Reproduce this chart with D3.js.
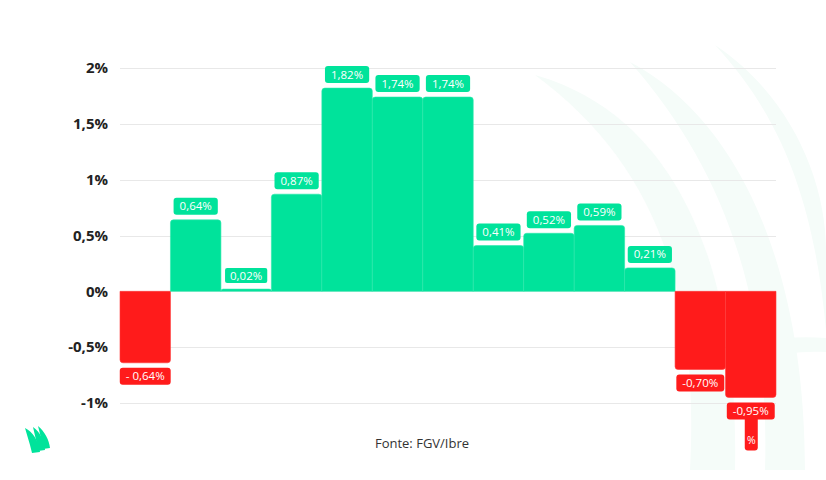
<!DOCTYPE html>
<html><head><meta charset="utf-8">
<script src="https://cdn.jsdelivr.net/npm/d3@7"></script>
<style>
html,body{margin:0;padding:0;background:#fff;}
svg{display:block;font-family:"Open Sans","Noto Sans",sans-serif;}
</style></head>
<body><svg id="c" width="826" height="480"></svg>
<script>
const categories = ["1","2","3","4","5","6","7","8","9","10","11","12","13"];
const values = [-0.64, 0.64, 0.02, 0.87, 1.82, 1.74, 1.74, 0.41, 0.52, 0.59, 0.21, -0.70, -0.95];
const valueLabels = ["- 0,64%","0,64%","0,02%","0,87%","1,82%","1,74%","1,74%","0,41%","0,52%","0,59%","0,21%","-0,70%","-0,95%"];
const tickValues = [2, 1.5, 1, 0.5, 0, -0.5, -1];
const tickLabels = ["2%","1,5%","1%","0,5%","0%","-0,5%","-1%"];
const sourceText = "Fonte: FGV/Ibre";

const GREEN = "#00E39B", RED = "#FF1B1B";
const svg = d3.select("#c");

// background watermark (faint arcs)
const wm = svg.append("g").attr("fill","#f5fcf9");
wm.append("path").attr("d","M535,75 C660,110 740,240 735,470 L690,470 C700,280 650,160 535,75 Z");
wm.append("path").attr("d","M630,62 C740,120 805,270 805,470 L765,470 C770,300 725,170 630,62 Z");
wm.append("path").attr("d","M715,45 C790,95 826,180 826,250 L826,330 C815,210 785,120 715,45 Z");
wm.append("path").attr("d","M700,360 C740,340 790,335 826,338 L826,352 C790,350 750,358 715,372 Z");

const x = d3.scaleBand().domain(categories).range([120,776]).padding(0);
const y = d3.scaleLinear().domain([-1,2]).range([403,68]);

// gridlines
svg.append("g").selectAll("line").data(tickValues).join("line")
  .attr("x1",120).attr("x2",776)
  .attr("y1",d=>Math.round(y(d))+0.5).attr("y2",d=>Math.round(y(d))+0.5)
  .attr("stroke","#e8e8e8").attr("stroke-width",1);

// y axis labels
const yAxis = d3.axisLeft(y).tickValues(tickValues).tickFormat((d,i)=>tickLabels[i]).tickSize(0).tickPadding(0);
const ag = svg.append("g").attr("transform","translate(108,0)").call(yAxis);
ag.select(".domain").remove();
ag.selectAll("text").attr("font-family","'Open Sans',sans-serif").attr("font-size",15)
  .attr("font-weight",700).attr("fill","#222");

// bars
function barPath(d,i){
  const x0 = x(categories[i]), w = x.bandwidth();
  const y0 = y(0), y1 = y(d), r = Math.min(3, Math.abs(y1-y0));
  if (d >= 0){
    return `M${x0},${y0}V${y1+r}Q${x0},${y1} ${x0+r},${y1}H${x0+w-r}Q${x0+w},${y1} ${x0+w},${y1+r}V${y0}Z`;
  } else {
    return `M${x0},${y0}V${y1-r}Q${x0},${y1} ${x0+r},${y1}H${x0+w-r}Q${x0+w},${y1} ${x0+w},${y1-r}V${y0}Z`;
  }
}
svg.append("g").selectAll("path").data(values).join("path")
  .attr("d",barPath).attr("fill",d=>d>=0?GREEN:RED)
  .attr("stroke",d=>d>=0?"#2ae8ab":"#ff3a3a").attr("stroke-width",0.6);

// value labels
const lg = svg.append("g");
values.forEach((d,i)=>{
  const cx = x(categories[i]) + x.bandwidth()/2;
  const g = lg.append("g");
  const t = g.append("text").text(valueLabels[i]).attr("font-size",11.5).attr("font-weight",500)
    .attr("fill","#fff").attr("text-anchor","middle");
  const tw = t.node().getComputedTextLength();
  const bw = tw + 12, bh = 17;
  const by = d >= 0 ? y(d) - 5 - bh : y(d) + 5;
  g.insert("rect","text").attr("x",cx-bw/2).attr("y",by).attr("width",bw).attr("height",bh)
    .attr("rx",3).attr("fill",d>=0?GREEN:RED)
    .attr("stroke",i===2?"#fff":"none").attr("stroke-width",i===2?2:0);
  t.attr("x",cx).attr("y",by+bh/2+4);
  if (i === values.length-1){
    // wrapped "%" tail
    g.insert("rect","rect").attr("x",cx-6).attr("y",by+bh-3).attr("width",13).attr("height",34)
      .attr("rx",3).attr("fill",RED);
    g.append("text").text("%").attr("x",cx+0.5).attr("y",by+bh+25).attr("font-size",10.5)
      .attr("fill","#fff").attr("text-anchor","middle");
  }
});

// source
svg.append("text").text(sourceText).attr("x",422).attr("y",448).attr("text-anchor","middle")
  .attr("font-size",13).attr("font-weight",500).attr("fill","#333");

// logo
const lo = svg.append("g").attr("fill",GREEN);
lo.append("path").attr("d","M25,428 C33,432 38,440 40,452 L32,453 L30,445 Z");
lo.append("path").attr("d","M33,427 C40,432 44,440 45,450 L38,451 L36,440 Z");
lo.append("path").attr("d","M38,426 C45,432 49,440 50,448 L43,449 L41,438 Z");
</script></body></html>
